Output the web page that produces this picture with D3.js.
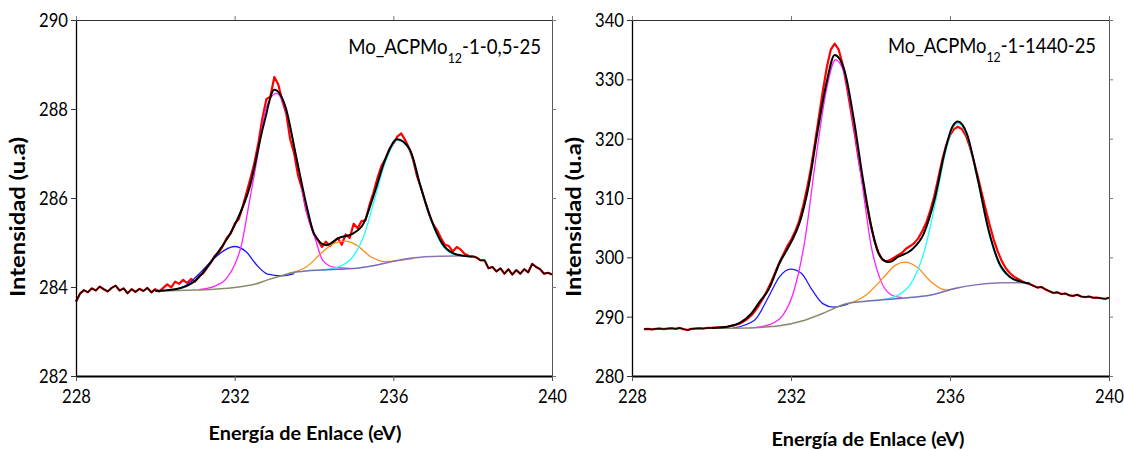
<!DOCTYPE html>
<html>
<head>
<meta charset="utf-8">
<script src="https://cdn.jsdelivr.net/npm/d3@7"></script>
<style>
  body { margin: 0; background: #fff; }
  svg { display: block; font-family: Lato, "Open Sans", sans-serif; }
</style>
</head>
<body>
<svg id="chart" width="1124" height="450"></svg>
<script>
// ---- data ----

const xTicks = [228, 232, 236, 240];
const leftYTicks = [282, 284, 286, 288, 290];
const rightYTicks = [280, 290, 300, 310, 320, 330, 340];

const eStep = 0.1;          // spectrometer energy step (eV)

// raw spectrum, Mo_ACPMo12-1-0,5-25 (starts at 228.0 eV)
const leftStart = 228.0;
const leftRaw = [
  283.67, 283.85, 283.93, 283.88, 283.97, 283.92, 284.01, 283.95, 283.90, 283.98,
  284.03, 283.92, 283.97, 283.86, 283.95, 283.89, 283.96, 283.91, 283.98, 283.88,
  283.95, 283.90, 283.98, 284.06, 283.99, 284.12, 284.07, 284.16, 284.09, 284.18,
  284.12, 284.25, 284.30, 284.43, 284.55, 284.70, 284.78, 284.92, 285.10, 285.20,
  285.42, 285.52, 285.80, 286.12, 286.45, 286.80, 287.25, 287.80, 288.22, 288.28,
  288.72, 288.55, 288.18, 287.90, 287.32, 287.00, 286.50, 286.20, 285.75, 285.45,
  285.18, 285.05, 284.90, 285.02, 284.92, 285.02, 285.10, 284.95, 285.18, 285.10,
  285.42, 285.32, 285.48, 285.50, 285.85, 286.12, 286.45, 286.72, 286.88, 287.10,
  287.22, 287.38, 287.45, 287.30, 287.12, 286.85, 286.48, 286.22, 285.92, 285.65,
  285.42, 285.28, 285.10, 284.95, 284.92, 284.80, 284.90, 284.84, 284.74, 284.70,
  284.69, 284.66, 284.60, 284.60, 284.42, 284.45, 284.35, 284.42, 284.30, 284.40,
  284.28, 284.38, 284.30, 284.40, 284.33, 284.52, 284.45, 284.40, 284.30, 284.32,
  284.28
];

// raw spectrum, Mo_ACPMo12-1-1440-25 (starts at 228.3 eV)
const rightStart = 228.3;
const rightRaw = [
  287.90, 287.95, 287.85, 287.95, 288.00, 287.90, 288.00, 288.05, 287.95, 288.10,
  287.90, 287.75, 287.95, 288.00, 288.05, 288.00, 288.10, 288.10, 288.15, 288.20,
  288.25, 288.30, 288.45, 288.60, 288.80, 289.15, 289.60, 290.20, 291.00, 292.00,
  293.10, 294.40, 295.80, 297.40, 299.00, 300.40, 301.80, 302.90, 304.30, 306.00,
  308.50, 311.50, 315.00, 319.20, 323.60, 328.00, 332.00, 335.00, 336.00, 335.00,
  332.50, 329.00, 325.00, 321.00, 316.60, 312.80, 309.00, 305.60, 302.80, 300.80,
  299.60, 299.30, 299.60, 300.00, 300.40, 300.80, 301.50, 301.90, 302.40, 303.20,
  304.40, 305.80, 307.80, 310.20, 313.20, 316.30, 318.80, 320.60, 321.60, 322.00,
  321.60, 320.50, 318.60, 316.20, 313.60, 310.80, 308.00, 305.40, 303.00, 301.00,
  299.40, 298.20, 297.40, 296.80, 296.40, 296.00, 295.70, 295.50, 295.20, 294.90,
  295.00, 294.60, 294.30, 294.00, 294.10, 293.80, 293.90, 293.60, 293.50, 293.70,
  293.40, 293.30, 293.40, 293.20, 293.20, 293.10, 293.00, 293.20
];

// fitted curves, [energy, intensity]
const leftEnvelope = [
  [230.0, 283.91], [230.5, 283.95], [231.03, 284.16], [231.48, 284.66], [232.0, 285.39],
  [232.38, 286.25], [232.74, 287.68], [233.0, 288.43], [233.28, 288.05], [233.55, 286.93],
  [233.82, 285.8], [234.0, 285.2], [234.31, 284.94], [234.62, 285.1], [234.98, 285.2],
  [235.25, 285.43], [235.52, 286.1], [235.79, 286.85], [236.1, 287.32], [236.42, 287.08],
  [236.69, 286.25], [236.96, 285.5], [237.23, 284.98], [237.5, 284.76], [237.77, 284.7],
  [238.0, 284.68]
];
const leftBackground = [
  [230.0, 283.91], [231.0, 283.93], [232.0, 283.99], [232.5, 284.06], [232.83, 284.16],
  [233.2, 284.26], [233.46, 284.32], [233.8, 284.36], [234.18, 284.38], [234.6, 284.4],
  [235.07, 284.42], [235.5, 284.48], [235.97, 284.57], [236.3, 284.63], [236.69, 284.67],
  [237.2, 284.69], [238.0, 284.7]
];
const leftPeakA = [   // blue
  [230.4, 283.93], [230.8, 284.05], [231.12, 284.31], [231.48, 284.64], [231.75, 284.83],
  [232.0, 284.91], [232.29, 284.79], [232.56, 284.49], [232.83, 284.29], [233.19, 284.25],
  [233.5, 284.3]
];
const leftPeakB = [   // magenta
  [231.1, 283.94], [231.5, 284.02], [231.8, 284.2], [232.0, 284.5], [232.15, 284.87],
  [232.38, 285.96], [232.56, 286.85], [232.78, 287.98], [233.05, 288.35], [233.28, 288.0],
  [233.55, 286.95], [233.82, 285.66], [234.04, 285.06], [234.22, 284.6], [234.53, 284.44],
  [234.89, 284.42]
];
const leftPeakC = [   // orange
  [233.37, 284.31], [233.82, 284.46], [234.18, 284.76], [234.53, 284.99], [234.8, 285.03],
  [235.07, 284.94], [235.43, 284.68], [235.79, 284.57], [236.15, 284.6], [236.5, 284.64]
];
const leftPeakD = [   // cyan
  [234.2, 284.38], [234.62, 284.45], [234.98, 284.68], [235.25, 285.13], [235.52, 285.95],
  [235.79, 286.78], [236.1, 287.3], [236.42, 287.06], [236.69, 286.25], [236.96, 285.47],
  [237.23, 284.95], [237.5, 284.74], [237.77, 284.7], [238.0, 284.7]
];

const rightEnvelope = [
  [230.0, 288.1], [230.4, 288.3], [230.7, 288.9], [231.0, 290.5], [231.2, 292.4],
  [231.44, 294.6], [231.71, 299.0], [231.99, 302.4], [232.21, 305.7], [232.44, 311.9],
  [232.66, 320.9], [232.89, 329.3], [233.1, 334.1], [233.34, 331.6], [233.57, 323.7],
  [233.8, 313.6], [234.02, 305.2], [234.2, 300.7], [234.39, 299.3], [234.47, 299.2],
  [234.7, 300.1], [235.02, 301.2], [235.34, 304.0], [235.61, 309.7], [235.88, 318.1],
  [236.06, 322.0], [236.2, 322.9], [236.42, 320.9], [236.7, 313.1], [236.97, 304.6],
  [237.24, 299.0], [237.51, 296.7], [237.78, 295.9], [238.0, 295.6]
];
const rightBackground = [
  [230.0, 288.05], [230.54, 288.05], [231.62, 288.4], [232.35, 289.4], [232.89, 290.8],
  [233.34, 292.1], [233.89, 292.6], [234.79, 293.1], [235.52, 293.65], [236.15, 294.8],
  [236.7, 295.4], [237.33, 295.7], [238.0, 295.7]
];
const rightPeakA = [  // blue
  [230.54, 288.05], [231.08, 289.4], [231.44, 293.4], [231.71, 296.7], [231.99, 298.0],
  [232.26, 297.3], [232.53, 294.5], [232.8, 292.2], [233.07, 291.6], [233.43, 292.1]
];
const rightPeakB = [  // magenta
  [230.99, 288.1], [231.44, 288.6], [231.8, 290.3], [232.08, 294.5], [232.35, 302.9],
  [232.62, 316.4], [232.89, 328.2], [233.12, 333.3], [233.34, 331.0], [233.57, 322.6],
  [233.8, 311.9], [234.02, 301.8], [234.25, 296.2], [234.52, 293.7], [234.79, 293.2]
];
const rightPeakC = [  // orange
  [233.43, 292.1], [233.89, 293.65], [234.34, 296.7], [234.61, 298.6], [234.87, 299.2],
  [235.16, 298.4], [235.52, 295.9], [235.88, 294.5], [236.24, 294.95]
];
const rightPeakD = [  // cyan
  [234.34, 292.9], [234.7, 293.65], [235.02, 295.6], [235.34, 300.7], [235.61, 308.5],
  [235.88, 317.5], [236.06, 321.7], [236.2, 322.6], [236.42, 320.6], [236.7, 312.8],
  [236.97, 304.3], [237.24, 298.7], [237.51, 296.6], [237.78, 295.8], [238.0, 295.7]
];

const peakColors = ["#1a1aff", "#ff22ff", "#ff8c1a", "#1affff"];

// ---- drawing ----

const svg = d3.select("#chart");
const defs = svg.append("defs");

const panels = [
  {
    id: "l", x0: 76, x1: 552, yDomain: [282, 290], yTicks: leftYTicks,
    start: leftStart, raw: leftRaw, fit: [230, 238],
    envelope: leftEnvelope, bg: leftBackground,
    peaks: [leftPeakA, leftPeakB, leftPeakC, leftPeakD],
    title: ["Mo_ACPMo", "12", "-1-0,5-25"], titleX: 541, titleY: 54, titleW: 193,
    xLabelX: 305, xLabelY: 440, yLabelX: 25
  },
  {
    id: "r", x0: 632, x1: 1109, yDomain: [280, 340], yTicks: rightYTicks,
    start: rightStart, raw: rightRaw, fit: [230, 238],
    envelope: rightEnvelope, bg: rightBackground,
    peaks: [rightPeakA, rightPeakB, rightPeakC, rightPeakD],
    title: ["Mo_ACPMo", "12", "-1-1440-25"], titleX: 1096, titleY: 53, titleW: 208,
    xLabelX: 868, xLabelY: 446, yLabelX: 581
  }
];

const plotTop = 20, plotBottom = 376;

// put a text at (x,y), then squeeze it horizontally to a target width
function fitText(parent, x, y, rot, anchor, width, build) {
  const g = parent.append("g").attr("transform", `translate(${x},${y}) rotate(${rot})`);
  const t = g.append("text").attr("text-anchor", anchor).attr("fill", "#000");
  build(t);
  const k = width / t.node().getComputedTextLength();
  t.attr("transform", `scale(${k},1)`);
  return t;
}

panels.forEach(p => {
  const x = d3.scaleLinear().domain([228, 240]).range([p.x0, p.x1]);
  const y = d3.scaleLinear().domain(p.yDomain).range([plotBottom, plotTop]);

  const rawPts = p.raw.map((v, i) => [p.start + i * eStep, v]);

  const lineRaw = d3.line().x(d => x(d[0])).y(d => y(d[1]));
  const lineFit = d3.line().x(d => x(d[0])).y(d => y(d[1])).curve(d3.curveMonotoneX);

  const g = svg.append("g");

  // raw data (red)
  g.append("path").datum(rawPts)
    .attr("d", lineRaw).attr("fill", "none")
    .attr("stroke", "#ff0000").attr("stroke-width", 2.2).attr("stroke-linejoin", "round");

  // component peaks
  p.peaks.forEach((pk, i) => {
    g.append("path").datum(pk)
      .attr("d", lineFit).attr("fill", "none")
      .attr("stroke", peakColors[i]).attr("stroke-width", 1.3);
  });

  // shirley background, colour blends from grey-olive to purple where peaks overlap
  const grad = defs.append("linearGradient").attr("id", "bg" + p.id)
    .attr("gradientUnits", "userSpaceOnUse")
    .attr("x1", x(p.fit[0])).attr("x2", x(p.fit[1])).attr("y1", 0).attr("y2", 0);
  grad.append("stop").attr("offset", "0%").attr("stop-color", "#8c8a6c");
  grad.append("stop").attr("offset", "38%").attr("stop-color", "#8c8a6c");
  grad.append("stop").attr("offset", "52%").attr("stop-color", "#5f6cc4");
  grad.append("stop").attr("offset", "78%").attr("stop-color", "#7d6cc0");
  grad.append("stop").attr("offset", "100%").attr("stop-color", "#9e80a8");
  g.append("path").datum(p.bg)
    .attr("d", lineFit).attr("fill", "none")
    .attr("stroke", `url(#bg${p.id})`).attr("stroke-width", 1.5);

  // fit envelope (black)
  g.append("path").datum(p.envelope)
    .attr("d", lineFit).attr("fill", "none")
    .attr("stroke", "#000").attr("stroke-width", 2);

  // data outside fit window shown dark on top of the red
  g.append("path").datum(rawPts)
    .attr("d", lineRaw.defined(d => d[0] <= p.fit[0] + 1e-6 || d[0] >= p.fit[1] - 1e-6))
    .attr("fill", "none").attr("stroke", "#1a0000").attr("stroke-width", 1.5)
    .attr("stroke-linejoin", "round");

  // frame: top and right with small outward ticks
  g.append("g").attr("transform", `translate(0,${plotTop})`)
    .call(d3.axisTop(x).tickValues(xTicks).tickSize(4).tickSizeOuter(0).tickFormat(""))
    .call(a => a.select(".domain").attr("stroke", "#333"))
    .call(a => a.selectAll(".tick line").attr("stroke", "#777"));
  g.append("g").attr("transform", `translate(${p.x1},0)`)
    .call(d3.axisRight(y).tickValues(p.yTicks).tickSize(4).tickSizeOuter(0).tickFormat(""))
    .call(a => a.select(".domain").attr("stroke", "#555"))
    .call(a => a.selectAll(".tick line").attr("stroke", "#777"));

  // bottom axis
  const xa = g.append("g").attr("transform", `translate(0,${plotBottom})`)
    .call(d3.axisBottom(x).tickValues(xTicks).tickSize(5).tickSizeOuter(0).tickFormat(d3.format("d")));
  xa.select(".domain").attr("stroke", "#000").attr("stroke-width", 2);
  xa.selectAll(".tick line").attr("stroke", "#555");
  xa.selectAll(".tick text").attr("font-size", 20).attr("font-family", "Lato").attr("fill", "#000")
    .attr("y", 13)
    .each(function () {
      const k = 29 / this.getComputedTextLength();
      d3.select(this).attr("transform", `scale(${k},1)`);
    });

  // left axis
  const ya = g.append("g").attr("transform", `translate(${p.x0},0)`)
    .call(d3.axisLeft(y).tickValues(p.yTicks).tickSize(5).tickSizeOuter(0).tickFormat(d3.format("d")));
  ya.select(".domain").attr("stroke", "#000").attr("stroke-width", 1.3);
  ya.selectAll(".tick line").attr("stroke", "#333");
  ya.selectAll(".tick text").attr("font-size", 20).attr("font-family", "Lato").attr("fill", "#000")
    .each(function () {
      const k = 29 / this.getComputedTextLength();
      d3.select(this).attr("x", -8 / k).attr("transform", `scale(${k},1)`);
    });

  // sample title with subscript
  fitText(g, p.titleX, p.titleY, 0, "end", p.titleW, t => {
    t.attr("font-size", 21);
    t.append("tspan").text(p.title[0]);
    t.append("tspan").attr("font-size", 14).attr("dy", 9).text(p.title[1]);
    t.append("tspan").attr("dy", -9).text(p.title[2]);
  });

  // axis titles
  fitText(g, p.xLabelX, p.xLabelY, 0, "middle", 193, t => {
    t.attr("font-size", 19).attr("font-weight", "bold").text("Energía de Enlace (eV)");
  });
  fitText(g, p.yLabelX, 217, -90, "middle", 160, t => {
    t.attr("font-size", 20).attr("font-weight", "bold").text("Intensidad (u.a)");
  });
});
</script>
</body>
</html>
